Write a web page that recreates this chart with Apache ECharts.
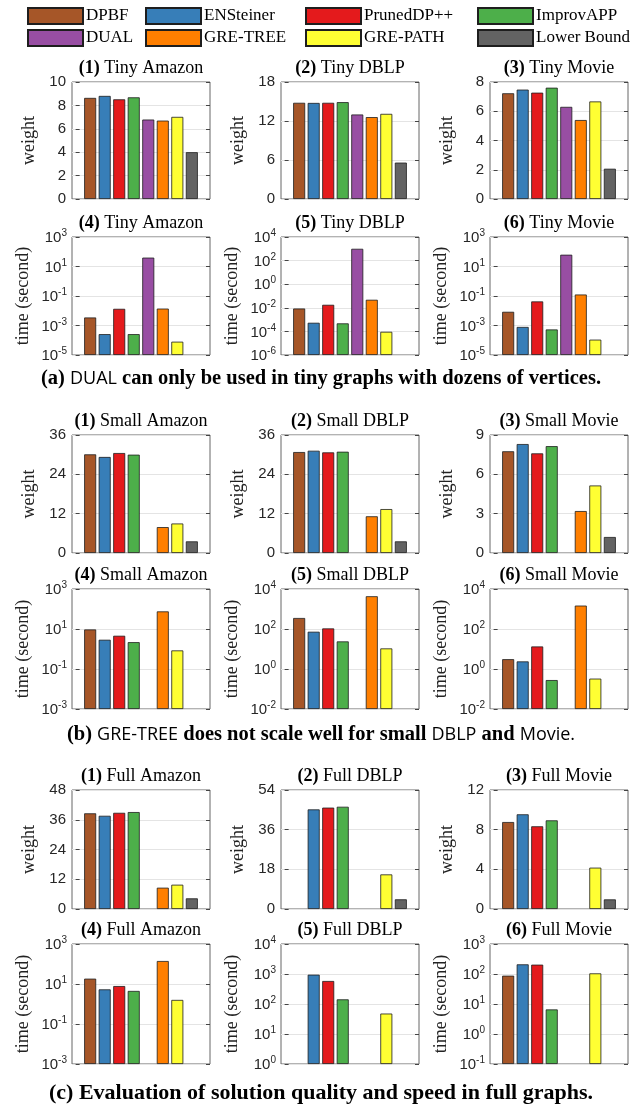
<!DOCTYPE html>
<html>
<head>
<meta charset="utf-8">
<script src="https://cdn.jsdelivr.net/npm/echarts@6/dist/echarts.min.js"></script>
<style>html,body{margin:0;padding:0;background:#fff}#main{width:644px;height:1108px}</style>
</head>
<body>
<div id="main"></div>
<script>
// methods, one bar slot each (1..8)
var methods = ['DPBF', 'ENSteiner', 'PrunedDP++', 'ImprovAPP', 'DUAL', 'GRE-TREE', 'GRE-PATH', 'Lower Bound'];
var colors = ['#A65628', '#377EB8', '#E41A1C', '#4DAF4A', '#984EA3', '#FF7F00', '#FFFF33', '#636363'];

// (a) tiny graphs
var tinyAmazonWeight = [8.64, 8.81, 8.52, 8.69, 6.79, 6.70, 7.02, 4.0];
var tinyDblpWeight   = [14.8, 14.78, 14.8, 14.9, 13.0, 12.6, 13.1, 5.6];
var tinyMovieWeight  = [7.23, 7.48, 7.27, 7.61, 6.3, 5.4, 6.67, 2.07];
var tinyAmazonTime = [3.5e-3, 2.6e-4, 1.35e-2, 2.6e-4, 40, 1.4e-2, 8e-5, null];
var tinyDblpTime   = [8.7e-3, 5.4e-4, 1.8e-2, 4.8e-4, 1000, 4.8e-2, 9.3e-5, null];
var tinyMovieTime  = [8.5e-3, 8e-4, 4.3e-2, 5.4e-4, 63, 0.126, 1.1e-4, null];

// (b) small graphs
var smallAmazonWeight = [30.1, 29.3, 30.5, 30.0, null, 7.9, 9.0, 3.55];
var smallDblpWeight   = [30.8, 31.2, 30.7, 30.9, null, 11.2, 13.4, 3.55];
var smallMovieWeight  = [7.76, 8.31, 7.6, 8.15, null, 3.2, 5.15, 1.22];
var smallAmazonTime = [9.5, 2.9, 4.6, 2.2, null, 76, 0.85, null];
var smallDblpTime   = [355, 73, 107, 24, null, 4350, 10.7, null];
var smallMovieTime  = [3.1, 2.4, 13.4, 0.28, null, 1480, 0.33, null];

// (c) full graphs
var fullAmazonWeight = [38.6, 37.6, 38.8, 39.1, null, 8.6, 9.8, 4.3];
var fullDblpWeight   = [null, 45.2, 46.0, 46.4, null, null, 15.7, 4.4];
var fullMovieWeight  = [8.77, 9.55, 8.34, 8.94, null, null, 4.17, 0.97];
var fullAmazonTime = [18.5, 5.4, 7.9, 4.5, null, 141, 1.6, null];
var fullDblpTime   = [null, 950, 585, 143, null, null, 48, null];
var fullMovieTime  = [88, 210, 205, 6.6, null, null, 105, null];

// axis ranges: weight [min, max, step], time [min exp, max exp, step exp]
var panels = [
  {row: 0, col: 0, num: '(1)', name: 'Tiny Amazon', data: tinyAmazonWeight, lin: [0, 10, 2]},
  {row: 0, col: 1, num: '(2)', name: 'Tiny DBLP', data: tinyDblpWeight, lin: [0, 18, 6]},
  {row: 0, col: 2, num: '(3)', name: 'Tiny Movie', data: tinyMovieWeight, lin: [0, 8, 2]},
  {row: 1, col: 0, num: '(4)', name: 'Tiny Amazon', data: tinyAmazonTime, log: [-5, 3, 2]},
  {row: 1, col: 1, num: '(5)', name: 'Tiny DBLP', data: tinyDblpTime, log: [-6, 4, 2]},
  {row: 1, col: 2, num: '(6)', name: 'Tiny Movie', data: tinyMovieTime, log: [-5, 3, 2]},
  {row: 2, col: 0, num: '(1)', name: 'Small Amazon', data: smallAmazonWeight, lin: [0, 36, 12]},
  {row: 2, col: 1, num: '(2)', name: 'Small DBLP', data: smallDblpWeight, lin: [0, 36, 12]},
  {row: 2, col: 2, num: '(3)', name: 'Small Movie', data: smallMovieWeight, lin: [0, 9, 3]},
  {row: 3, col: 0, num: '(4)', name: 'Small Amazon', data: smallAmazonTime, log: [-3, 3, 2]},
  {row: 3, col: 1, num: '(5)', name: 'Small DBLP', data: smallDblpTime, log: [-2, 4, 2]},
  {row: 3, col: 2, num: '(6)', name: 'Small Movie', data: smallMovieTime, log: [-2, 4, 2]},
  {row: 4, col: 0, num: '(1)', name: 'Full Amazon', data: fullAmazonWeight, lin: [0, 48, 12]},
  {row: 4, col: 1, num: '(2)', name: 'Full DBLP', data: fullDblpWeight, lin: [0, 54, 18]},
  {row: 4, col: 2, num: '(3)', name: 'Full Movie', data: fullMovieWeight, lin: [0, 12, 4]},
  {row: 5, col: 0, num: '(4)', name: 'Full Amazon', data: fullAmazonTime, log: [-3, 3, 2]},
  {row: 5, col: 1, num: '(5)', name: 'Full DBLP', data: fullDblpTime, log: [0, 4, 1]},
  {row: 5, col: 2, num: '(6)', name: 'Full Movie', data: fullMovieTime, log: [-1, 3, 1]}
];

var colLeft = [72, 281, 490];
var plotW = 138;
var rowTop = [82, 237, 435, 589, 790, 944];
var rowH = [117, 118, 118, 120, 119, 120];

var serif = 'Liberation Serif';
var sans = 'Liberation Sans';

var grids = [], xAxes = [], yAxes = [], series = [], graphics = [];

panels.forEach(function (p, i) {
  var isLog = !!p.log;
  var rng = isLog ? p.log : p.lin;
  var lo = rng[0];
  grids.push({
    left: colLeft[p.col], top: rowTop[p.row], width: plotW, height: rowH[p.row],
    show: true, borderColor: '#666', borderWidth: 1
  });
  xAxes.push({
    gridIndex: i, type: 'value', min: -0.25, max: 9.25,
    axisLine: {show: false}, axisTick: {show: false}, axisLabel: {show: false}, splitLine: {show: false}
  });
  var yMin = isLog ? 0 : rng[0];
  var yMax = isLog ? rng[1] - lo : rng[1];
  yAxes.push({
    gridIndex: i, type: 'value', min: yMin, max: yMax, interval: rng[2],
    name: isLog ? 'time (second)' : 'weight',
    nameLocation: 'middle', nameGap: isLog ? 40 : 34,
    nameTextStyle: {fontFamily: serif, fontSize: 18, color: '#222'},
    axisLine: {show: false},
    axisTick: {show: true, inside: true, length: 4, lineStyle: {color: '#444'}},
    splitLine: {show: true, lineStyle: {color: '#e4e4e4', width: 1}},
    axisLabel: isLog ? {
      margin: 5,
      formatter: function (v) { return '{b|10}{s|' + (v + lo) + '}'; },
      rich: {
        b: {fontFamily: sans, fontSize: 15, color: '#262626', lineHeight: 17, verticalAlign: 'bottom'},
        s: {fontFamily: sans, fontSize: 10, color: '#262626', lineHeight: 10, verticalAlign: 'top'}
      }
    } : {margin: 6, fontFamily: sans, fontSize: 15, color: '#262626'}
  });
  yAxes.push({
    gridIndex: i, type: 'value', min: yMin, max: yMax, interval: rng[2], position: 'right',
    axisLine: {show: false}, axisLabel: {show: false}, splitLine: {show: false},
    axisTick: {show: true, inside: true, length: 4, lineStyle: {color: '#444'}}
  });
  methods.forEach(function (m, k) {
    var v = p.data[k];
    var d = [];
    if (v != null) d.push([k + 1, isLog ? Math.log10(v) - lo : v]);
    series.push({
      type: 'bar', name: m, xAxisIndex: i, yAxisIndex: 2 * i,
      barWidth: 12, barGap: '-100%', data: d,
      itemStyle: {color: colors[k], borderColor: '#1e1e1e', borderWidth: 0.8},
      emphasis: {disabled: true}, silent: true
    });
  });
  graphics.push({
    type: 'text', x: colLeft[p.col] + plotW / 2, y: rowTop[p.row] - 14,
    style: {
      text: '{b|' + p.num + '}{n| ' + p.name + '}', align: 'center', verticalAlign: 'middle',
      rich: {
        b: {fontFamily: serif, fontWeight: 'bold', fontSize: 18, fill: '#000'},
        n: {fontFamily: serif, fontSize: 18, fill: '#000'}
      }
    }
  });
});

// captions
function capRich(size) {
  return {
    b: {fontFamily: serif, fontWeight: 'bold', fontSize: size, fill: '#000'},
    s: {fontFamily: 'Open Sans', fontSize: size - 2.5, fill: '#000'}
  };
}
var captions = [
  {y: 379, size: 20.5, text: '{b|(a) }{s|DUAL}{b| can only be used in tiny graphs with dozens of vertices.}'},
  {y: 735, size: 20.5, text: '{b|(b) }{s|GRE-TREE}{b| does not scale well for small }{s|DBLP}{b| and }{s|Movie.}'},
  {y: 1093, size: 22, text: '{b|(c) Evaluation of solution quality and speed in full graphs.}'}
];
captions.forEach(function (c) {
  graphics.push({
    type: 'text', x: 321, y: c.y,
    style: {text: c.text, rich: capRich(c.size), align: 'center', verticalAlign: 'middle'}
  });
});

var legLeft = [27, 145, 305, 477];
var legends = legLeft.map(function (x, c) {
  return {
    left: x, top: 7, padding: 0, orient: 'vertical', itemGap: 4, itemWidth: 55, itemHeight: 16,
    icon: 'rect', selectedMode: false,
    data: [methods[c], methods[c + 4]],
    textStyle: {fontFamily: serif, fontSize: 17, lineHeight: 16, color: '#000', padding: [0, 0, 0, -2]}
  };
});

var myChart = echarts.init(document.getElementById('main'));
myChart.setOption({
  animation: false,
  backgroundColor: '#fff',
  legend: legends,
  grid: grids,
  xAxis: xAxes,
  yAxis: yAxes,
  series: series,
  graphic: graphics
});
</script>
</body>
</html>
